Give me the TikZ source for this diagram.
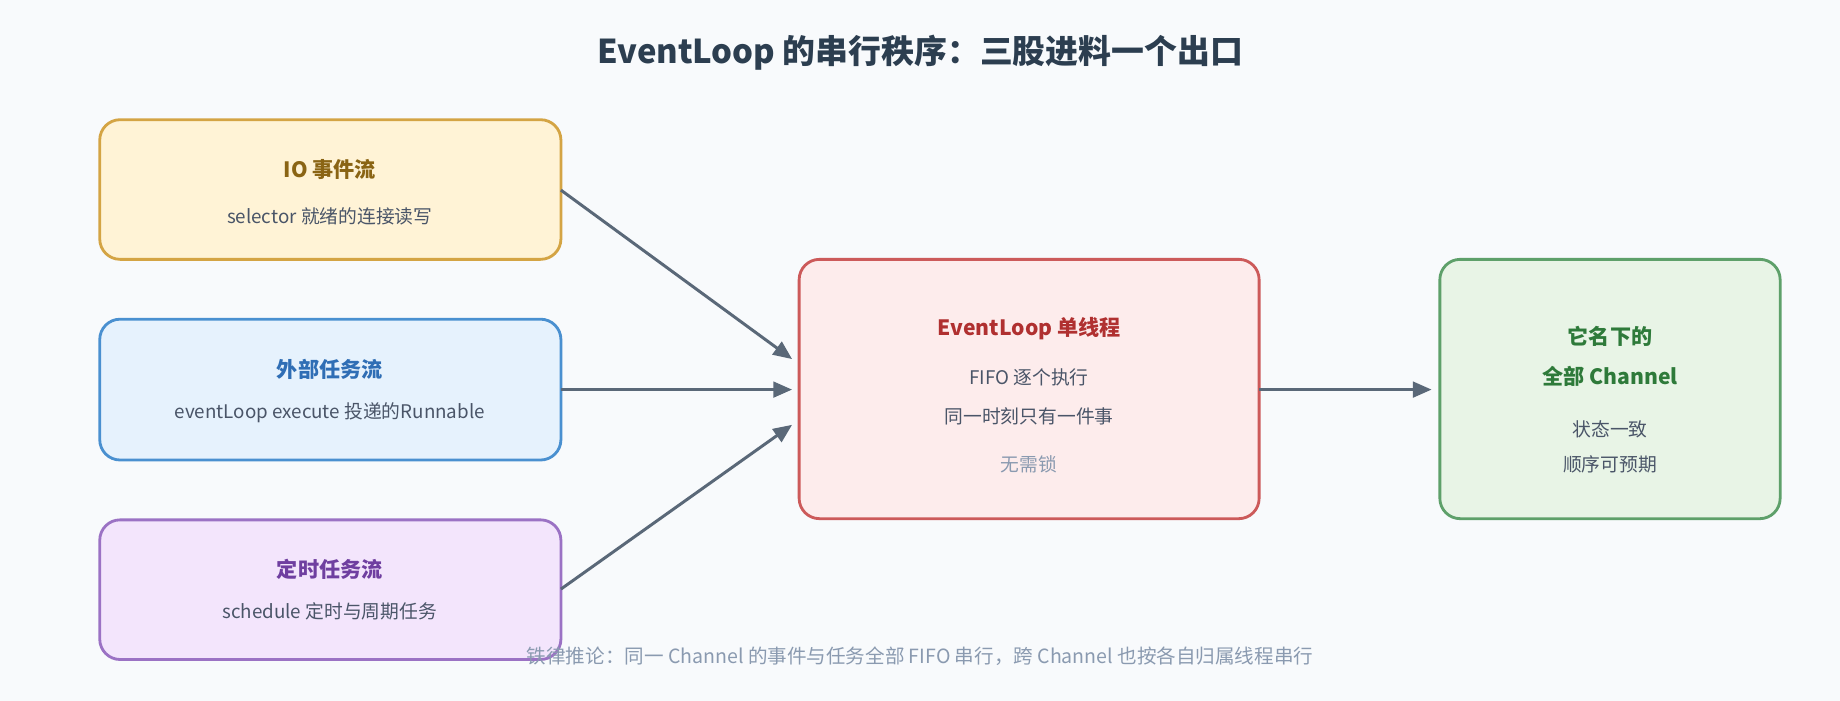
\documentclass[tikz,border=0pt]{standalone}
\usepackage{fontspec}
\setmainfont{Noto Sans CJK SC}
\usetikzlibrary{arrows.meta}
\definecolor{bg}{HTML}{F8FAFC}
\definecolor{ttl}{HTML}{2C3E50}
\definecolor{sub}{HTML}{4A5568}
\definecolor{arr}{HTML}{5A6878}
\definecolor{note}{HTML}{8A9AB0}
\definecolor{yf}{HTML}{FFF3D6}\definecolor{yd}{HTML}{D4A444}\definecolor{yt}{HTML}{8A6414}
\definecolor{bf}{HTML}{E6F2FD}\definecolor{bd}{HTML}{4A90D0}\definecolor{bt}{HTML}{2F6EB5}
\definecolor{pf}{HTML}{F3E5FC}\definecolor{pd}{HTML}{9B72C4}\definecolor{pt}{HTML}{6F3FA0}
\definecolor{rf}{HTML}{FDECEC}\definecolor{rd}{HTML}{CC5A5A}\definecolor{rt}{HTML}{B03030}
\definecolor{gf}{HTML}{E8F4E6}\definecolor{gd}{HTML}{5EA06A}\definecolor{gt}{HTML}{2E7A3A}
\begin{document}
\begin{tikzpicture}[x=0.75pt,y=-0.75pt,
  box/.style={draw,line width=1.8pt,rounded corners=13pt},
  t/.style={font=\fontsize{13.5}{16}\selectfont\bfseries},
  s/.style={font=\fontsize{12}{14}\selectfont,text=sub},
  a/.style={draw=arr,line width=1.9pt,-{Triangle[length=12pt,width=10pt]}}]
\fill[bg] (0,0) rectangle (1568,597);
\node[font=\fontsize{21}{24}\selectfont\bfseries,text=ttl] (title) at (784,45) {EventLoop 的串行秩序：三股进料一个出口};
\draw[box,fill=yf,draw=yd] (85,102) rectangle (478,221);
\coordinate (io) at (478,162);
\node[t,text=yt] (iot) at (281,144) {IO 事件流};
\node[s] (ios) at (281,184) {selector 就绪的连接读写};
\draw[box,fill=bf,draw=bd] (85,272) rectangle (478,392);
\coordinate (ex) at (478,332);
\node[t,text=bt] (ext) at (281,315) {外部任务流};
\node[s] (exs) at (281,352) {eventLoop execute 投递的Runnable};
\draw[box,fill=pf,draw=pd] (85,443) rectangle (478,562);
\coordinate (sc) at (478,502);
\node[t,text=pt] (sct) at (281,485) {定时任务流};
\node[s] (scs) at (281,521) {schedule 定时与周期任务};
\draw[box,fill=rf,draw=rd] (681,221) rectangle (1073,442);
\coordinate (c1) at (675,306);\coordinate (c2) at (675,332);\coordinate (c3) at (675,362);
\coordinate (co) at (1073,332);
\node[t,text=rt] (ct) at (877,280) {EventLoop 单线程};
\node[s] (c1t) at (877,322) {FIFO 逐个执行};
\node[s] (c2t) at (877,355) {同一时刻只有一件事};
\node[s,text=note] (c3t) at (877,396) {无需锁};
\draw[box,fill=gf,draw=gd] (1227,221) rectangle (1517,442);
\coordinate (gi) at (1220,332);
\node[t,text=gt] (g1) at (1372,287) {它名下的};
\node[t,text=gt] (g2) at (1372,321) {全部 Channel};
\node[s] (g3) at (1372,366) {状态一致};
\node[s] (g4) at (1372,396) {顺序可预期};
\draw[a] (io) -- (c1);
\draw[a] (ex) -- (c2);
\draw[a] (sc) -- (c3);
\draw[a] (co) -- (gi);
\node[font=\fontsize{12.5}{14}\selectfont,text=note] (foot) at (784,559) {铁律推论：同一 Channel 的事件与任务全部 FIFO 串行，跨 Channel 也按各自归属线程串行};
\end{tikzpicture}
\end{document}
